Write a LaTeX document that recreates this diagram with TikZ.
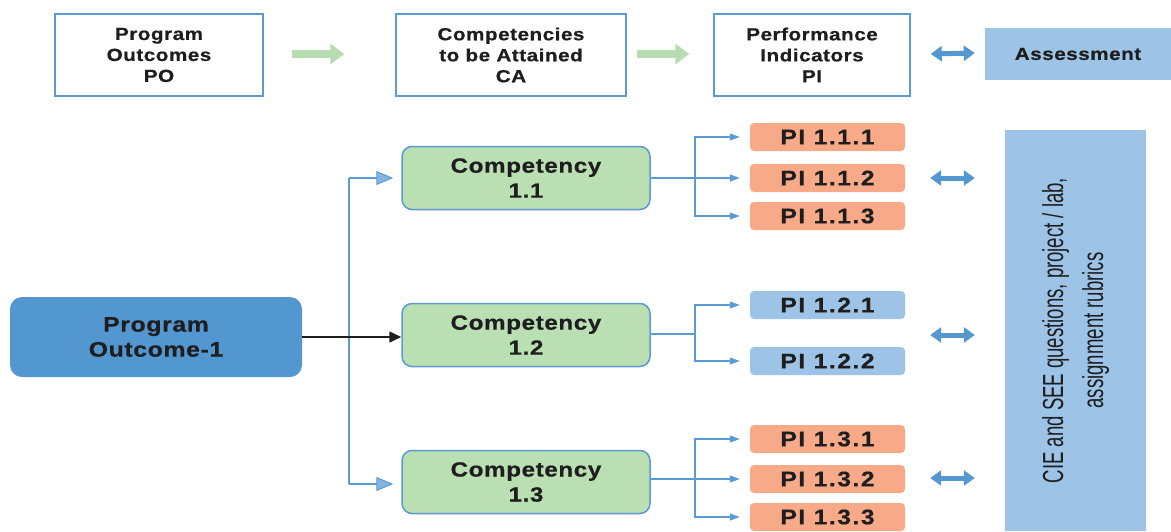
\documentclass[tikz,border=0pt]{standalone}
\usepackage{fontspec}
\setmainfont{Liberation Sans}
\newfontfamily\widefont[FakeStretch=1.18, LetterSpace=3, FakeBold=0.6]{Liberation Sans Bold}
\newfontfamily\pifont[FakeStretch=1.18, LetterSpace=7, FakeBold=0.6]{Liberation Sans Bold}
\newfontfamily\narrowfont[FakeStretch=0.64]{Liberation Sans}
\usetikzlibrary{arrows.meta,calc}

\definecolor{edgeblue}{HTML}{5B9BD5}
\definecolor{fillblue}{HTML}{9DC3E6}
\definecolor{pofill}{HTML}{5397D1}
\definecolor{compfill}{HTML}{BADFB2}
\definecolor{pifill}{HTML}{F8AA88}
\definecolor{flowgreen}{HTML}{B6DCB0}
\definecolor{dblblue}{HTML}{5597D0}
\definecolor{ink}{HTML}{1E1E1E}

\tikzset{
  headbox/.style={draw=edgeblue, line width=1.5pt, fill=white, minimum height=82pt,
    inner sep=0pt, align=center, text=ink, font=\widefont\fontsize{17.5}{21}\selectfont},
  assessbox/.style={fill=fillblue, minimum width=186pt, minimum height=52pt, inner sep=0pt,
    text=ink, font=\widefont\fontsize{17.5}{21}\selectfont},
  pobox/.style={fill=pofill, rounded corners=12pt, minimum width=292pt, minimum height=80pt,
    inner sep=0pt, align=center, text=ink, font=\widefont\fontsize{21}{25}\selectfont},
  compbox/.style={draw=edgeblue, line width=1.5pt, fill=compfill, rounded corners=10pt,
    minimum width=248pt, minimum height=63pt, inner sep=0pt, align=center, text=ink,
    font=\widefont\fontsize{20.5}{25}\selectfont},
  pibox/.style={rounded corners=4pt, minimum width=155pt, minimum height=28pt, inner sep=0pt,
    text=ink, font=\pifont\fontsize{21}{24}\selectfont},
  piorange/.style={pibox, fill=pifill},
  piblue/.style={pibox, fill=fillblue},
  flowarrow/.style={draw=flowgreen, line width=8pt,
    -{Triangle[length=14pt, width=20pt, fill=flowgreen]}},
  dblarrow/.style={draw=dblblue, line width=5pt,
    {Triangle[length=11pt, width=15pt, fill=dblblue]}-{Triangle[length=11pt, width=15pt, fill=dblblue]}},
  trunk/.style={draw=edgeblue, line width=2.5pt},
  trunkarrow/.style={trunk, -{Triangle[length=17pt, width=14pt, fill=edgeblue!75!white, line width=1pt]}},
  branch/.style={draw=edgeblue, line width=1.2pt,
    -{Triangle[length=10pt, width=7pt, fill=edgeblue]}},
  mainarrow/.style={draw=ink, line width=1.5pt, -{Triangle[length=12pt, width=11pt]}}
}

\begin{document}
\begin{tikzpicture}[x=1pt, y=-1pt]
\useasboundingbox (0,0) rectangle (1171,531);

% header row
\node[headbox, minimum width=208pt] (po) at (159,55) {Program\\Outcomes\\PO};
\node[headbox, minimum width=230pt] (ca) at (511,55) {Competencies\\to be Attained\\CA};
\node[headbox, minimum width=196pt] (pi) at (812,55) {Performance\\Indicators\\PI};
\node[assessbox] (as) at (1078,54) {Assessment};

\draw[flowarrow] ($(po.east)+(28,-1)$) -- ($(ca.west)+(-51,-1)$);
\draw[flowarrow] ($(ca.east)+(10,-1)$) -- ($(pi.west)+(-24,-1)$);
\draw[dblarrow] ($(pi.east)+(20,-1)$) -- ($(as.west)+(-10,-1)$);

% program outcome and its competencies
\node[pobox] (po1) at (156,337) {Program\\Outcome-1};

\node[compbox] (c11) at (526,178) {Competency\\1.1};
\node[compbox] (c12) at (526,335) {Competency\\1.2};
\node[compbox] (c13) at (526,482) {Competency\\1.3};

\coordinate (tt) at (349,178);
\coordinate (tb) at (349,484);
\draw[trunk] (tt) -- (tb);
\draw[trunkarrow] (tt) -- ($(c11.west)+(-8,0)$);
\draw[trunkarrow] (tb) -- ($(c13.west |- tb)+(-8,0)$);
\draw[mainarrow] (po1.east) -- (c12.west |- po1.east);

% performance indicators
\node[piorange] (p111) at (827.5,137) {PI 1.1.1};
\node[piorange] (p112) at (827.5,178) {PI 1.1.2};
\node[piorange] (p113) at (827.5,216) {PI 1.1.3};
\node[piblue]   (p121) at (827.5,305) {PI 1.2.1};
\node[piblue]   (p122) at (827.5,361) {PI 1.2.2};
\node[piorange] (p131) at (827.5,439) {PI 1.3.1};
\node[piorange] (p132) at (827.5,479) {PI 1.3.2};
\node[piorange] (p133) at (827.5,517) {PI 1.3.3};

\coordinate (j11) at (695,178);
\coordinate (j12) at (695,334);
\coordinate (j13) at (695,479);

\draw[branch] (c11.east) -- (j11) |- ($(p111.west)+(-10,0)$);
\draw[branch] (c11.east) -- ($(p112.west)+(-10,0)$);
\draw[branch] (c11.east) -- (j11) |- ($(p113.west)+(-10,0)$);
\draw[branch] (c12.east |- j12) -- (j12) |- ($(p121.west)+(-10,0)$);
\draw[branch] (c12.east |- j12) -- (j12) |- ($(p122.west)+(-10,0)$);
\draw[branch] (c13.east |- j13) -- (j13) |- ($(p131.west)+(-10,0)$);
\draw[branch] (c13.east |- j13) -- ($(p132.west)+(-10,0)$);
\draw[branch] (c13.east |- j13) -- (j13) |- ($(p133.west)+(-10,0)$);

% assessment instruments
\node[fill=fillblue, minimum width=141pt, minimum height=401pt, inner sep=0pt] (big) at (1075.5,330.5) {};
\node[rotate=90, align=center, text=ink, font=\narrowfont\fontsize{29}{40}\selectfont] (bigtext) at (big.center)
  {CIE and SEE questions, project / lab,\\assignment rubrics};

\draw[dblarrow] ($(p112.east)+(25,0)$) -- ($(big.west |- p112)+(-30,0)$);
\draw[dblarrow] ($(p121.east)+(25,30)$) -- ($(big.west |- p121)+(-30,30)$);
\draw[dblarrow] ($(p132.east)+(25,-1)$) -- ($(big.west |- p132)+(-30,-1)$);
\end{tikzpicture}
\end{document}
